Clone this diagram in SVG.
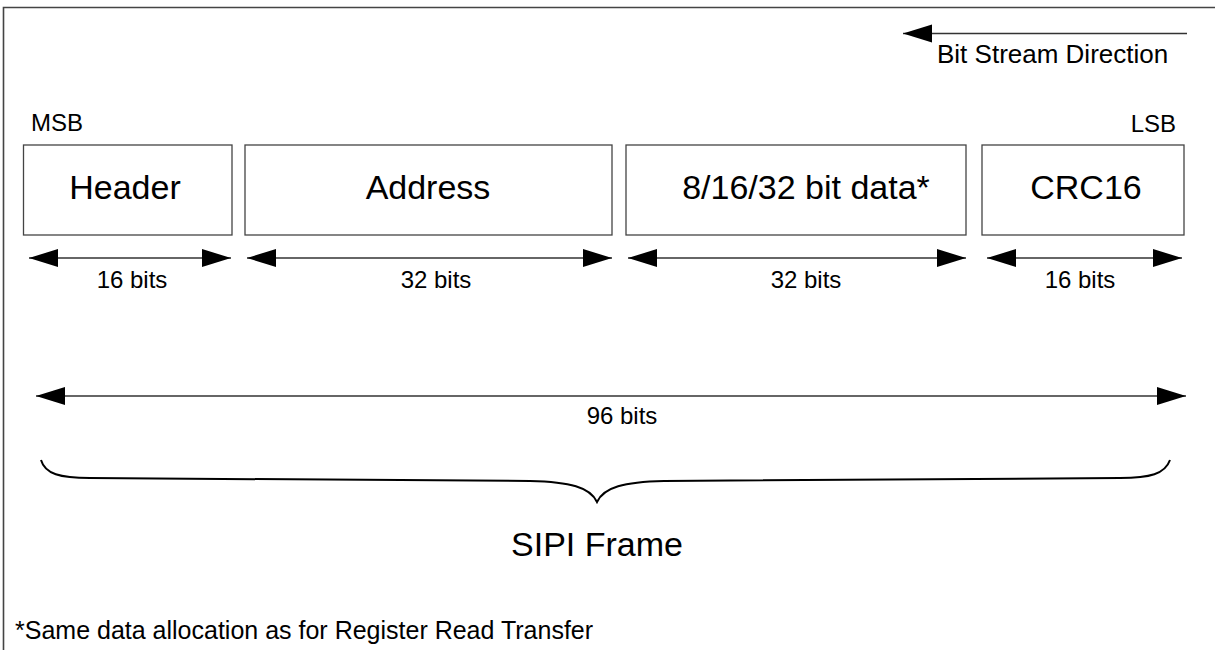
<svg xmlns="http://www.w3.org/2000/svg" width="1215" height="650" viewBox="0 0 1215 650">
  <style>
    .frame { fill: none; stroke: #444; stroke-width: 1.6; }
    .box { fill: #fff; stroke: #444; stroke-width: 1.3; }
    .dim { stroke: #333; stroke-width: 1.4; fill: none; }
    .brace { stroke: #000; stroke-width: 2; fill: none; }
    text { font-family: "Liberation Sans", Arial, Helvetica, sans-serif; fill: #000; }
    .big { font-size: 34px; text-anchor: middle; }
    .lbl { font-size: 24px; text-anchor: middle; }
    .sm { font-size: 24px; }
  </style>
  <defs>
    <marker id="ah" markerUnits="userSpaceOnUse" markerWidth="30" markerHeight="20" refX="29" refY="9" orient="auto-start-reverse" viewBox="0 0 30 18">
      <path d="M0,0 L29,9 L0,18 Z" fill="#000"/>
    </marker>
  </defs>

  <path class="frame" d="M3.5,650 V7.5 H1215"/>

  <g id="direction">
    <line class="dim" x1="1187" y1="33.5" x2="903" y2="33.5" marker-end="url(#ah)"/>
    <text class="sm" x="937" y="63" style="font-size:26px">Bit Stream Direction</text>
  </g>

  <text id="msb" class="sm" x="31" y="131">MSB</text>
  <text id="lsb" class="sm" x="1176" y="132" text-anchor="end">LSB</text>

  <g id="header">
    <rect class="box" x="23.5" y="145" width="208.5" height="90"/>
    <text class="big" x="125" y="199">Header</text>
  </g>
  <g id="address">
    <rect class="box" x="245" y="145" width="367" height="90"/>
    <text class="big" x="428" y="199">Address</text>
  </g>
  <g id="data">
    <rect class="box" x="626" y="145" width="340" height="90"/>
    <text class="big" x="806" y="199">8/16/32 bit data*</text>
  </g>
  <g id="crc16">
    <rect class="box" x="982" y="145" width="202" height="90"/>
    <text class="big" x="1086" y="199">CRC16</text>
  </g>

  <g id="connectors">
    <line class="dim" x1="29" y1="258" x2="231" y2="258" marker-start="url(#ah)" marker-end="url(#ah)"/>
    <line class="dim" x1="247" y1="258" x2="612" y2="258" marker-start="url(#ah)" marker-end="url(#ah)"/>
    <line class="dim" x1="628" y1="258" x2="966" y2="258" marker-start="url(#ah)" marker-end="url(#ah)"/>
    <line class="dim" x1="987" y1="258" x2="1182" y2="258" marker-start="url(#ah)" marker-end="url(#ah)"/>
    <line class="dim" x1="36" y1="396" x2="1186" y2="396" marker-start="url(#ah)" marker-end="url(#ah)"/>
    <path class="brace" d="M41,460 C45,474 60,478 90,478 L530,481 C570,482 590,487 597,502 C604,487 624,482 664,481 L1120,478 C1150,478 1165,474 1170,460"/>
  </g>

  <text id="lbl-header" class="lbl" x="132" y="288">16 bits</text>
  <text id="lbl-address" class="lbl" x="436" y="288">32 bits</text>
  <text id="lbl-data" class="lbl" x="806" y="288">32 bits</text>
  <text id="lbl-crc" class="lbl" x="1080" y="288">16 bits</text>
  <text id="lbl-total" class="lbl" x="622" y="424">96 bits</text>
  <text id="sipi" class="big" x="597" y="556">SIPI Frame</text>
  <text id="footnote" class="sm" x="15" y="639" style="font-size:25px">*Same data allocation as for Register Read Transfer</text>
</svg>
